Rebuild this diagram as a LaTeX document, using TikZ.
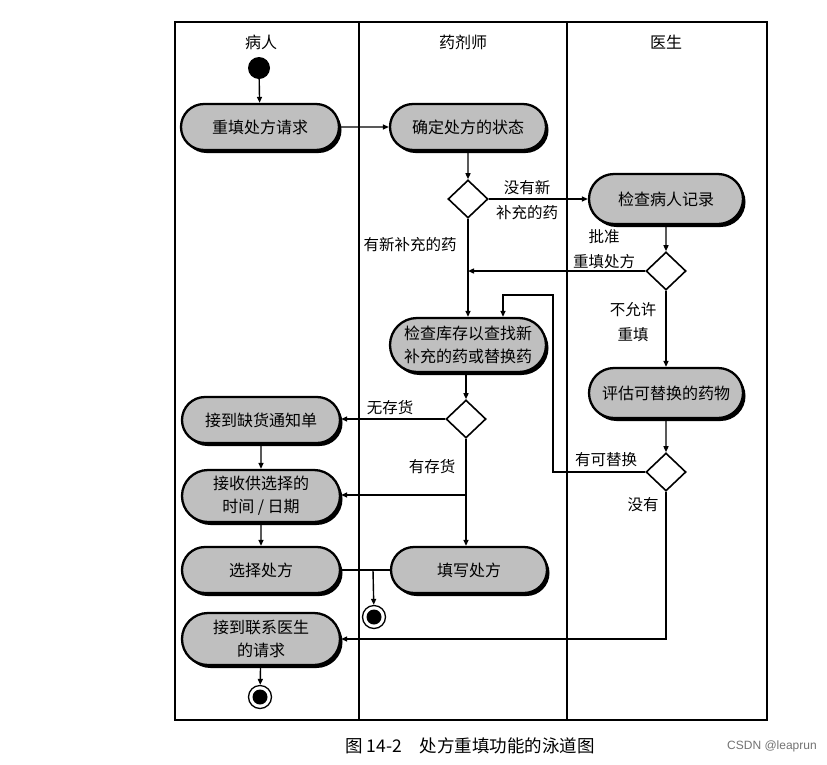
\documentclass[tikz,border=0pt]{standalone}
\usepackage{fontspec}
\newfontfamily\cjk{Noto Sans CJK SC}
\newfontfamily\wmfont{Liberation Sans}
\usetikzlibrary{shapes.geometric,shapes.misc,arrows.meta,shadows}

\begin{document}
\begin{tikzpicture}[x=1pt,y=-1pt,
  lane/.style={line width=1.5pt},
  act/.style={rounded rectangle, draw, line width=2.3pt, fill=black!25,
    drop shadow={shadow xshift=2.5pt, shadow yshift=-3pt, fill=black, opacity=1},
    minimum height=46pt, minimum width=160pt, inner sep=2pt, align=center,
    font=\cjk\fontsize{16}{23}\selectfont},
  dec/.style={diamond, draw, line width=1.6pt, fill=white,
    minimum width=40pt, minimum height=38pt, inner sep=0pt},
  lbl/.style={font=\cjk\fontsize{15.5}{25}\selectfont, align=center, inner sep=1pt},
  hdr/.style={font=\cjk\fontsize{16}{19}\selectfont},
  flow/.style={line width=1.4pt, -{Triangle[length=6pt,width=5pt]}},
  wire/.style={line width=1.4pt},
  startnode/.style={circle, fill=black, minimum size=22pt, inner sep=0pt},
  endnode/.style={circle, draw, line width=1.3pt, fill=white, minimum size=23pt, inner sep=0pt,
    path picture={\fill[black] (path picture bounding box.center) circle[radius=7.5pt];}}
]
\useasboundingbox[fill=white] (0,0) rectangle (827,764);

% swimlanes
\draw[lane] (175,22) rectangle (767,720);
\draw[lane] (359,22) -- (359,720);
\draw[lane] (567,22) -- (567,720);
\node[hdr] (h1) at (261,42) {病人};
\node[hdr] (h2) at (463,42) {药剂师};
\node[hdr] (h3) at (666,42) {医生};

% patient lane
\node[startnode] (start) at (259,68) {};
\node[act, minimum width=162pt] (req) at (260,127) {重填处方请求};
\node[act, minimum width=162pt] (nostock) at (261,420) {接到缺货通知单};
\node[act, minimum width=162pt, minimum height=52pt] (time) at (261,496) {接收供选择的\\时间 / 日期};
\node[act, minimum width=162pt] (select) at (261,570) {选择处方};
\node[act, minimum width=162pt, minimum height=52pt] (contact) at (261,639) {接到联系医生\\的请求};
\node[endnode] (fin2) at (260,697) {};

% pharmacist lane
\node[act] (stat) at (468,127) {确定处方的状态};
\node[dec] (d1) at (468,199) {};
\node[act, minimum height=54pt] (inv) at (468,345) {检查库存以查找新\\补充的药或替换药};
\node[dec] (d4) at (466,419) {};
\node[act] (fill) at (469,570) {填写处方};
\node[endnode] (fin1) at (374,617) {};

% doctor lane
\node[act, minimum width=158pt, minimum height=50pt] (chk) at (666,199) {检查病人记录};
\node[dec] (d2) at (666,271) {};
\node[act, minimum width=158pt, minimum height=50pt] (eval) at (666,393) {评估可替换的药物};
\node[dec] (d3) at (666,472) {};

% guard labels
\node[lbl] (g1) at (527,200) {没有新\\补充的药};
\node[lbl] (g2) at (410,245) {有新补充的药};
\node[lbl] (g3) at (604,249) {批准\\重填处方};
\node[lbl] (g4) at (633,322) {不允许\\重填};
\node[lbl] (g5) at (390,408) {无存货};
\node[lbl] (g6) at (432,467) {有存货};
\node[lbl] (g7) at (606,460) {有可替换};
\node[lbl] (g8) at (643,505) {没有};

% helper points
\coordinate (loopR) at (553,295);
\coordinate (loopL) at (503,295);
\coordinate (br) at (466,495);
\coordinate (jn) at (373,570);

% connectors
\draw[flow] (start) -- (req);
\draw[flow] (req) -- (stat);
\draw[flow] (stat) -- (d1);
\draw[flow] (d1.east) -- (chk);
\draw[flow] (d1.south) -- (inv.north -| d1.south);
\draw[flow] (chk) -- (d2);
\draw[flow] (d2.west) -- (d2.west -| d1.south);
\draw[flow] (d2) -- (eval);
\draw[flow] (eval) -- (d3);
\draw[flow] (d3.west) -| (loopR) -- (loopL) -- (loopL |- inv.north);
\draw[flow] (inv.south -| d4.north) -- (d4.north);
\draw[flow] (d4.west) -- (d4.west -| nostock.east);
\draw[flow] (d4.south) -- (fill.north -| d4.south);
\draw[flow] (br) -- (br -| time.east);
\draw[flow] (nostock) -- (time);
\draw[flow] (time) -- (select);
\draw[wire] (select.east) -- (fill.west);
\draw[flow] (jn) -- (fin1);
\draw[flow] (d3.south) |- (contact.east);
\draw[flow] (contact) -- (fin2);

% caption and credit
\node[font=\cjk\fontsize{17.5}{21}\selectfont] (cap) at (470,746) {图 14-2\quad 处方重填功能的泳道图};
\node[font=\wmfont\fontsize{12}{14}\selectfont, text=black!55] (wm) at (772,746) {CSDN @leaprun};
\end{tikzpicture}
\end{document}
